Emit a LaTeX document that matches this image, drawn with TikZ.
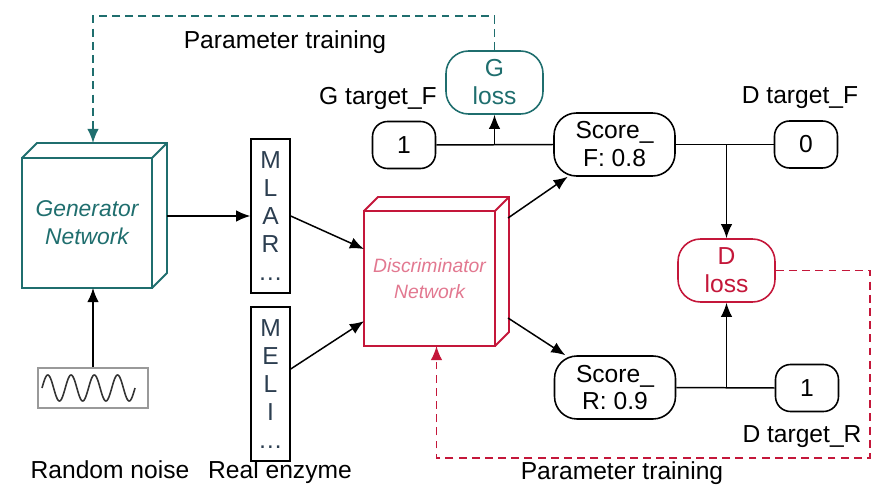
\documentclass[tikz,border=0pt]{standalone}
\usepackage{fontspec}
\setmainfont{Liberation Sans}
\usetikzlibrary{arrows.meta,positioning,calc}
\definecolor{gteal}{HTML}{1F6E6E}
\definecolor{dred}{HTML}{C4173A}
\definecolor{dpink}{HTML}{E27890}
\definecolor{seqink}{HTML}{2C3E50}
\tikzset{lbl/.style={font=\fontsize{14}{16}\selectfont, inner sep=0pt}}
\tikzset{netface/.style={draw, line width=1.1pt, outer sep=0pt, align=center, font=\itshape\fontsize{13}{16}\selectfont}}
\tikzset{pill/.style={draw, line width=0.9pt, rounded corners=0.3cm, minimum width=1.26cm, minimum height=0.94cm, align=center, font=\fontsize{14}{15.9}\selectfont}}
\tikzset{bigpill/.style={pill, rounded corners=0.45cm, minimum width=2.42cm, minimum height=1.26cm}}
\tikzset{lossbox/.style={bigpill, minimum width=1.94cm}}
\tikzset{seqbox/.style={draw, line width=0.8pt, minimum width=0.78cm, minimum height=3.08cm, align=center, text=seqink, font=\fontsize{14}{15.9}\selectfont}}
\tikzset{arr/.style={draw, -{Latex[length=8pt,width=6.5pt]}, line width=0.85pt}}
\tikzset{trainarr/.style={draw, dashed, dash pattern=on 4.5pt off 3pt, line width=0.95pt, -{Latex[length=8pt,width=6.5pt]}}}
\newcommand{\cubeback}[3]{%
  \draw[#3] (#1.north west) -- ++(#2,-#2) -- ($(#1.north east)+(#2,-#2)$) -- ($(#1.south east)+(#2,-#2)$) -- (#1.south east);
  \draw[#3] (#1.north east) -- ++(#2,-#2);}

\begin{document}
\begin{tikzpicture}[x=0.02cm, y=-0.02cm]
  \useasboundingbox (0,0) rectangle (882,493);

  % networks
  \node[netface, draw=gteal, text=gteal, minimum width=2.6cm, minimum height=2.6cm] (gen) at (87,223) {Generator\\Network};
  \cubeback{gen}{15}{line width=1.1pt, gteal}
  \node[netface, draw=dred, text=dpink, minimum width=2.62cm, minimum height=2.7cm, font=\itshape\fontsize{11}{15}\selectfont] (disc) at (429.5,278.5) {Discriminator\\Network};
  \cubeback{disc}{14}{line width=1.1pt, dred}

  % inputs
  \node[draw=gray!80, line width=1pt, minimum width=2.2cm, minimum height=0.8cm] (noise) at (93,388) {};
  \draw[line width=0.9pt, black!80] plot[domain=0:93, samples=160] ({42+\x},{388-13*sin(\x/93*4*360)});
  \node[seqbox] (seq1) at (270.5,216) {M\\L\\A\\R\\\dots};
  \node[seqbox] (seq2) at (270.5,384) {M\\E\\L\\I\\\dots};

  % scores, targets and losses
  \node[pill] (gone) at (404,145) {1};
  \node[lossbox, draw=gteal, text=gteal] (gloss) at (494.5,82.5) {G\\loss};
  \node[bigpill] (scoreF) at (614.5,144.5) {Score\_\\F: 0.8};
  \node[pill] (dzero) at (806,144.5) {0};
  \node[lossbox, draw=dred, text=dred] (dloss) at (726.5,270.5) {D\\loss};
  \node[bigpill] (scoreR) at (615,387.5) {Score\_\\R: 0.9};
  \node[pill] (done) at (807,388) {1};

  % labels
  \node[lbl] (ptrainG) at (285,42) {Parameter training};
  \node[lbl] (gtargetF) at (378,98) {G target\_F};
  \node[lbl] (dtargetF) at (800,98) {D target\_F};
  \node[lbl] (dtargetR) at (802,437) {D target\_R};
  \node[lbl] (ptrainD) at (622,473) {Parameter training};
  \node[lbl] (noiselbl) at (110,469.5) {Random noise};
  \node[lbl] (enzymelbl) at (280,472) {Real enzyme};

  \coordinate (gtop) at ($(gen.north)+(6,-15)$);
  \coordinate (dbot) at ($(disc.south)+(7,0)$);
  \coordinate (dcorner) at (870,458);

  \begin{scope}[arr]
    \draw (noise.north) -- (noise.north |- gen.south);
    \draw ([xshift=0.3cm]seq1.west -| gen.east) -- (seq1.west);
    \draw (seq1.east) -- (disc);
    \draw ([yshift=0.3cm]seq2.east) -- (disc);
    \draw ($(disc.north east)+(13,7)$) -- (scoreF);
    \draw ($(disc.south east)+(13,-28)$) -- (scoreR);
    \draw (gloss.south |- scoreF.west) -- (gloss.south);
    \draw (dloss.north |- scoreF.east) -- (dloss.north);
    \draw (dloss.south |- scoreR.east) -- (dloss.south);
  \end{scope}
  \draw[line width=0.85pt] (gone.east) -- (scoreF.west);
  \draw[line width=0.85pt] (scoreF.east) -- (dzero.west);
  \draw[line width=0.85pt] (scoreR.east) -- (done.west);

  \draw[trainarr, gteal] (gloss.north) -- ++(0,-34) -| (gtop);
  \draw[trainarr, dred] (dloss.east) -| (dcorner) -| (dbot);
\end{tikzpicture}
\end{document}
